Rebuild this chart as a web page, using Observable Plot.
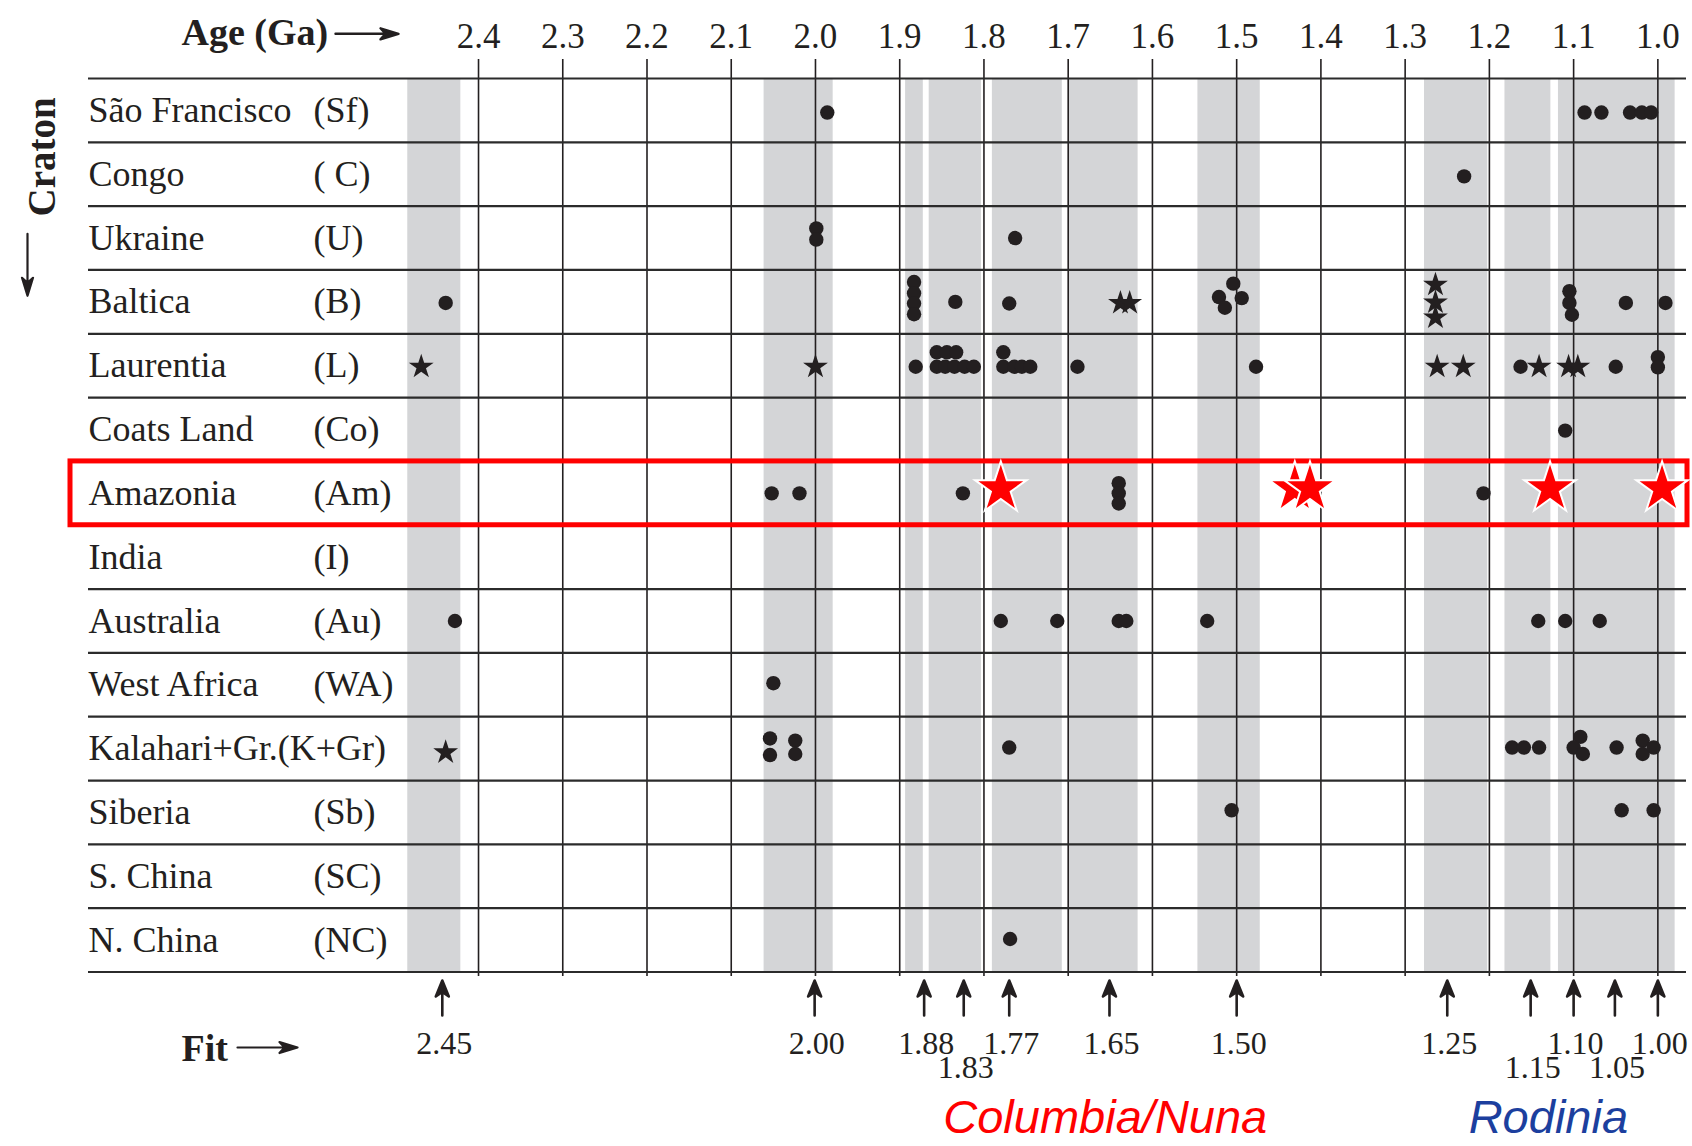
<!DOCTYPE html>
<html>
<head>
<meta charset="utf-8">
<script src="https://cdn.jsdelivr.net/npm/d3@7"></script>
<script src="https://cdn.jsdelivr.net/npm/@observablehq/plot@0.6"></script>
<style>
  html, body { margin: 0; padding: 0; background: #fff; }
  svg { display: block; }
</style>
</head>
<body>
<div id="chart"></div>
<script>
// ---------- data ----------
const cratons = ["São Francisco", "Congo", "Ukraine", "Baltica", "Laurentia", "Coats Land", "Amazonia",
  "India", "Australia", "West Africa", "Kalahari+Gr.(K+Gr)", "Siberia", "S. China", "N. China"];
const codes = ["Sf", "C", "U", "B", "L", "Co", "Am", "I", "Au", "WA", "K+Gr", "Sb", "SC", "NC"];
const codeLabels = ["(Sf)", "( C)", "(U)", "(B)", "(L)", "(Co)", "(Am)", "(I)", "(Au)", "(WA)", "", "(Sb)", "(SC)", "(NC)"];

const ageTicks = [2.4, 2.3, 2.2, 2.1, 2.0, 1.9, 1.8, 1.7, 1.6, 1.5, 1.4, 1.3, 1.2, 1.1, 1.0];

// shaded fit windows (Ga)
const bandFrom = [2.484, 2.061, 1.893, 1.865, 1.790, 1.699, 1.546, 1.277, 1.1815, 1.118];
const bandTo   = [2.421, 1.979, 1.872, 1.803, 1.707, 1.617, 1.472, 1.202, 1.127, 0.9795];

// observations: [craton code, age (Ga), stacking lane within the row]
const dotObs = [
  ["Sf", 1.986, 0.2], ["Sf", 1.087, 0.2], ["Sf", 1.067, 0.2], ["Sf", 1.033, 0.2], ["Sf", 1.019, 0.2], ["Sf", 1.008, 0.2],
  ["C", 1.230, 0.2],
  ["U", 1.999, -0.9], ["U", 1.999, 0.15], ["U", 1.763, 0],
  ["B", 2.439, 0.1], ["B", 1.883, -1.85], ["B", 1.883, -0.8], ["B", 1.883, 0.15], ["B", 1.883, 1.15],
  ["B", 1.834, 0], ["B", 1.770, 0.15],
  ["B", 1.504, -1.7], ["B", 1.521, -0.45], ["B", 1.514, 0.55], ["B", 1.494, -0.35],
  ["B", 1.105, -1.0], ["B", 1.105, 0.1], ["B", 1.102, 1.2], ["B", 1.038, 0.1], ["B", 0.991, 0.1],
  ["L", 1.881, 0.1], ["L", 1.856, -1.25], ["L", 1.844, -1.25], ["L", 1.833, -1.25],
  ["L", 1.856, 0.1], ["L", 1.846, 0.1], ["L", 1.835, 0.1], ["L", 1.823, 0.1], ["L", 1.812, 0.1],
  ["L", 1.777, -1.25], ["L", 1.777, 0.1], ["L", 1.764, 0.1], ["L", 1.755, 0.1], ["L", 1.745, 0.1],
  ["L", 1.689, 0.1], ["L", 1.477, 0.1], ["L", 1.163, 0.1], ["L", 1.050, 0.1], ["L", 1.000, -0.8], ["L", 1.000, 0.15],
  ["Co", 1.110, 0.1],
  ["Am", 2.052, 0], ["Am", 2.019, 0], ["Am", 1.825, 0], ["Am", 1.640, -0.95], ["Am", 1.640, 0], ["Am", 1.640, 0.95], ["Am", 1.207, 0],
  ["Au", 2.428, 0], ["Au", 1.780, 0], ["Au", 1.713, 0], ["Au", 1.640, 0], ["Au", 1.631, 0], ["Au", 1.535, 0],
  ["Au", 1.142, 0], ["Au", 1.110, 0], ["Au", 1.069, 0],
  ["WA", 2.050, -0.15],
  ["K+Gr", 2.054, -0.95], ["K+Gr", 2.054, 0.6], ["K+Gr", 2.024, -0.75], ["K+Gr", 2.024, 0.5], ["K+Gr", 1.770, -0.1],
  ["K+Gr", 1.173, -0.1], ["K+Gr", 1.159, -0.1], ["K+Gr", 1.141, -0.1],
  ["K+Gr", 1.092, -1.1], ["K+Gr", 1.100, -0.1], ["K+Gr", 1.089, 0.5], ["K+Gr", 1.049, -0.1],
  ["K+Gr", 1.018, -0.75], ["K+Gr", 1.018, 0.5], ["K+Gr", 1.005, -0.1],
  ["Sb", 1.506, -0.2], ["Sb", 1.043, -0.2], ["Sb", 1.005, -0.2],
  ["NC", 1.769, -0.1]
];
const starObs = [
  ["B", 1.638, 0.1], ["B", 1.627, 0.1], ["B", 1.264, -1.6], ["B", 1.264, 0.05], ["B", 1.264, 1.45],
  ["L", 2.468, 0.1], ["L", 2.000, 0.1], ["L", 1.262, 0.1], ["L", 1.231, 0.1], ["L", 1.141, 0.1],
  ["L", 1.106, 0.1], ["L", 1.095, 0.1],
  ["K+Gr", 2.439, 0.35]
];
const redStarObs = [["Am", 1.780, -0.45], ["Am", 1.431, -0.45], ["Am", 1.413, -0.45], ["Am", 1.128, -0.45], ["Am", 0.995, -0.45]];

// fit ages (arrows along the bottom)
const fitAt = [2.443, 2.001, 1.871, 1.824, 1.770, 1.651, 1.500, 1.250, 1.151, 1.100, 1.051, 1.000];
const fitLabels = ["2.45", "2.00", "1.88", "1.83", "1.77", "1.65", "1.50", "1.25", "1.15", "1.10", "1.05", "1.00"];
const fitLabelLine = [0, 0, 0, 1, 0, 0, 0, 0, 1, 0, 1, 0];

const superNames = ["Columbia/Nuna", "Rodinia"];
const superAt = [1.656, 1.130];
const superColors = ["#ff0000", "#1c3f9e"];

// ---------- build ----------
const ink = "#231f20";
const serif = "'Liberation Serif','Times New Roman',Times,serif";
const sans = "'Liberation Sans',Arial,Helvetica,sans-serif";
const rowIdx = new Map(codes.map((c, i) => [c, i]));
const laneStep = 0.168;
const toPoint = ([c, age, lane]) => ({age, y: rowIdx.get(c) + lane * laneStep});
const dots = dotObs.map(toPoint);
const stars = starObs.map(toPoint);
const redStars = redStarObs.map(toPoint);
const rowBounds = d3.range(cratons.length + 1).map(i => i - 0.5);
const amI = rowIdx.get("Am");
const bands = bandFrom.map((a, i) => ({x1: a, x2: bandTo[i]}));
const fits = fitAt.map((x, i) => ({x, label: fitLabels[i], line: fitLabelLine[i]}));
const supers = superNames.map((name, i) => ({name, x: superAt[i], color: superColors[i]}));

function arrowShape(hw, hh) {
  return {
    draw(ctx, l) {
      ctx.moveTo(0, 0);
      ctx.lineTo(0, -l + hh * 0.6);
      ctx.moveTo(0, -l);
      ctx.lineTo(hw, -l + hh);
      ctx.lineTo(0, -l + hh * 0.72);
      ctx.lineTo(-hw, -l + hh);
      ctx.closePath();
    }
  };
}

const chart = Plot.plot({
  width: 1692,
  height: 1146,
  marginTop: 78,
  marginBottom: 174.5,
  marginLeft: 88,
  marginRight: 6,
  x: {domain: [2.863, 0.966], axis: null},
  y: {domain: [13.5, -0.5], axis: null},
  style: {fontFamily: serif, background: "#fff", color: ink, overflow: "visible"},
  marks: [
    Plot.rect(bands, {x1: "x1", x2: "x2", fill: "#d4d5d7"}),
    Plot.ruleX(ageTicks, {stroke: ink, strokeWidth: 1.6, insetTop: -19, insetBottom: -4.5}),
    Plot.ruleY(rowBounds, {stroke: "#2b2b2b", strokeWidth: 2.2}),
    Plot.rect([{y1: amI - 0.5, y2: amI + 0.5}], {y1: "y1", y2: "y2", fill: "none", stroke: "#ff0000", strokeWidth: 5, insetLeft: -18, insetRight: -1}),
    Plot.dot(dots, {x: "age", y: "y", r: 7.2, fill: ink, stroke: "none"}),
    Plot.dot(stars, {x: "age", y: "y", r: 7.8, symbol: "star", fill: ink, stroke: "none"}),
    Plot.dot(redStars, {x: "age", y: "y", r: 16.2, symbol: "star", fill: "#ff0000", stroke: "#ffffff", strokeWidth: 2}),
    // row labels
    Plot.text(cratons, {frameAnchor: "left", y: (d, i) => i, text: d => d, textAnchor: "start", fontSize: 36, fill: ink}),
    Plot.text(codeLabels, {frameAnchor: "left", y: (d, i) => i, text: d => d, textAnchor: "start", dx: 225, fontSize: 36, fill: ink}),
    // top age tick labels
    Plot.text(ageTicks, {x: d => d, text: d => d.toFixed(1), frameAnchor: "top", dy: -31, lineAnchor: "bottom", fontSize: 35, fill: ink}),
    // header "Age (Ga) ->"
    Plot.text(["Age (Ga)"], {frameAnchor: "top-left", dx: 93, dy: -34, lineAnchor: "bottom", textAnchor: "start", fontWeight: "bold", fontSize: 38, fill: ink}),
    Plot.vector([0], {frameAnchor: "top-left", dx: 247, dy: -44.7, rotate: 90, length: 63, anchor: "start", shape: arrowShape(5.5, 18), fill: ink, stroke: ink, strokeWidth: 2.4}),
    // "Craton" with downward arrow
    Plot.text(["Craton"], {frameAnchor: "top-left", dx: -61, dy: 78.3, rotate: -90, textAnchor: "middle", fontWeight: "bold", fontSize: 39, fill: ink}),
    Plot.vector([0], {frameAnchor: "top-left", dx: -61, dy: 155.3, rotate: 180, length: 62, anchor: "start", shape: arrowShape(5.5, 18), fill: ink, stroke: ink, strokeWidth: 2.2}),
    // fit arrows & labels
    Plot.vector(fits, {x: "x", frameAnchor: "bottom", dy: 43.5, length: 35, anchor: "start", shape: arrowShape(6.5, 16), fill: ink, stroke: ink, strokeWidth: 2.6}),
    Plot.text(fits.filter(d => d.line === 0), {x: "x", text: "label", frameAnchor: "bottom", dx: 2, dy: 81.5, lineAnchor: "bottom", fontSize: 32, fill: ink}),
    Plot.text(fits.filter(d => d.line === 1), {x: "x", text: "label", frameAnchor: "bottom", dx: 2, dy: 105.5, lineAnchor: "bottom", fontSize: 32, fill: ink}),
    Plot.text(["Fit"], {frameAnchor: "bottom-left", dx: 93, dy: 88.5, lineAnchor: "bottom", textAnchor: "start", fontWeight: "bold", fontSize: 38, fill: ink}),
    Plot.vector([0], {frameAnchor: "bottom-left", dx: 149, dy: 75.5, rotate: 90, length: 60, anchor: "start", shape: arrowShape(5.5, 18), fill: ink, stroke: ink, strokeWidth: 2.2}),
    // supercontinent labels
    Plot.text(supers, {x: "x", text: "name", fill: "color", frameAnchor: "bottom", dy: 161, lineAnchor: "bottom", fontFamily: sans, fontStyle: "italic", fontSize: 47})
  ]
});
document.getElementById("chart").appendChild(chart);
</script>
</body>
</html>
